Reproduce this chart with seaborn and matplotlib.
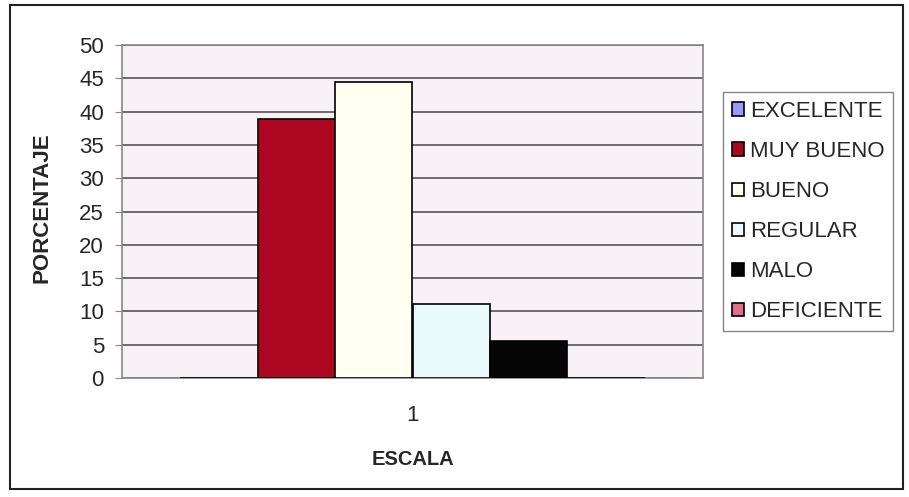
import numpy as np
import matplotlib
matplotlib.use("Agg")
import matplotlib.pyplot as plt
import pandas as pd
import seaborn as sns
from matplotlib.patches import Rectangle

escala = ['1']
series = ['EXCELENTE', 'MUY BUENO', 'BUENO', 'REGULAR', 'MALO', 'DEFICIENTE']
porcentaje = [0, 38.9, 44.4, 11.1, 5.6, 0]
colores = ['#9999FF', '#AC0620', '#FFFFF2', '#EAF9FC', '#050505', '#E0708A']

df = pd.DataFrame({'escala': escala * len(series), 'serie': series, 'porcentaje': porcentaje})

sns.set_style("white")
plt.rcParams['font.family'] = ['Liberation Sans', 'DejaVu Sans']

fig = plt.figure(figsize=(9.09, 4.97), dpi=100)
fig.patch.set_facecolor('white')
ax = fig.add_axes([122/909, 1-378/497, 581/909, 333/497])
ax.set_facecolor('#F8F1F6')

sns.barplot(data=df, x='escala', y='porcentaje', hue='serie', hue_order=series,
            palette=colores, edgecolor='black', linewidth=1.2, width=0.8,
            saturation=1, ax=ax, zorder=3)

ax.set_ylim(0, 50)
ax.set_yticks(np.arange(0, 51, 5))
ax.set_xlim(-0.5, 0.5)
ax.yaxis.grid(True, color='#555555', linewidth=1.2, zorder=0)
ax.set_axisbelow(True)
for s in ax.spines.values():
    s.set_color('#888888')
    s.set_linewidth(1.2)
ax.tick_params(axis='y', which='both', left=True, length=5, color='#888888',
               labelsize=16, pad=8)
ax.tick_params(axis='x', bottom=False, labelsize=16, pad=16)
ax.set_xlabel('ESCALA', fontsize=14.5, fontweight='bold', labelpad=17)
ax.set_ylabel('PORCENTAJE', fontsize=16, fontweight='bold')
ax.yaxis.set_label_coords(-0.119, 0.51)

handles, labels = ax.get_legend_handles_labels()
leg = ax.legend(handles, labels, loc='upper left',
                bbox_to_anchor=(723/909, 1-92/497), bbox_transform=fig.transFigure,
                frameon=True, fancybox=False, edgecolor='#666666', fontsize=16,
                handlelength=0.55, handleheight=0.55, handletextpad=0.25,
                labelspacing=0.86, borderpad=0.4, borderaxespad=0)
leg.get_frame().set_linewidth(1.0)

fig.add_artist(Rectangle((10/909, 8/497), 893/909, 484/497, transform=fig.transFigure,
                         fill=False, edgecolor='#222222', linewidth=1.5))

fig.savefig('out.png', dpi=100)
